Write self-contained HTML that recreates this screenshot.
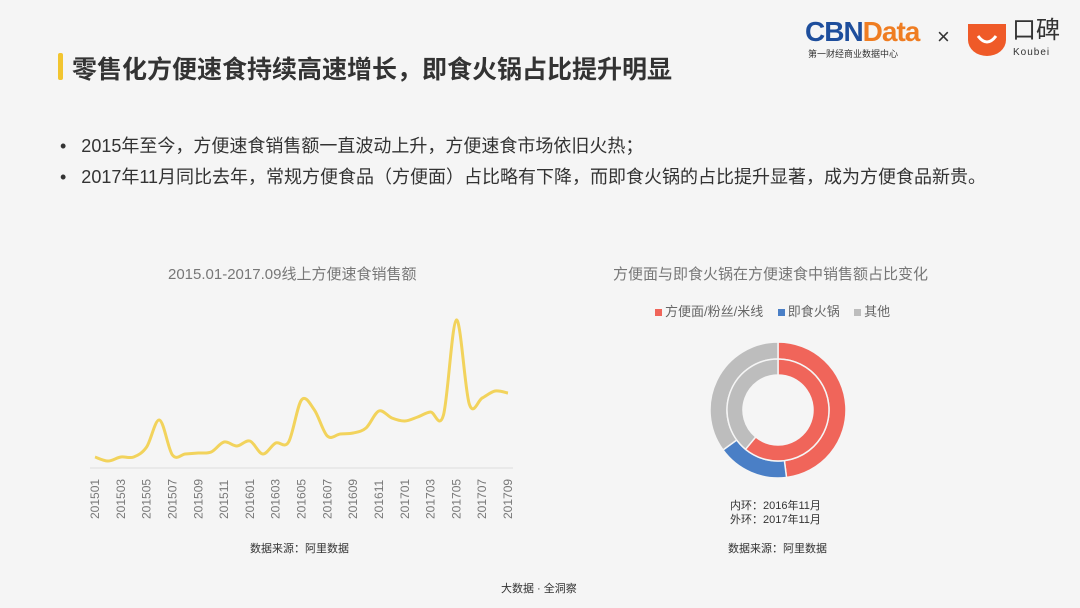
<!DOCTYPE html>
<html><head><meta charset="utf-8">
<style>
body{margin:0;width:1080px;height:608px;background:#f5f5f5;font-family:"Liberation Sans","Noto Sans CJK SC",sans-serif;overflow:hidden;position:relative}
.abs{position:absolute}
</style></head><body>
<div class="abs" style="left:58px;top:53px;width:5px;height:27px;background:#f2c530;border-radius:2px"></div>
<div class="abs" style="left:72px;top:50px;font-size:25px;font-weight:bold;color:#333;letter-spacing:0px">零售化方便速食持续高速增长，即食火锅占比提升明显</div>
<div class="abs" style="left:805px;top:17px;font-size:28px;font-weight:bold;letter-spacing:-1px;line-height:30px"><span style="color:#1e4e9c">CBN</span><span style="color:#ef7d22">Data</span></div>
<div class="abs" style="left:808px;top:47px;font-size:9px;color:#333">第一财经商业数据中心</div>
<div class="abs" style="left:937px;top:24px;font-size:22px;color:#333">×</div>
<svg class="abs" style="left:966px;top:22px" width="42" height="34"><path d="M2 2 H40 V18 A19 16 0 0 1 2 18 Z" fill="#ef5a28"/><path d="M12 14 Q21 26 30 14" stroke="#fff" stroke-width="3" fill="none"/></svg>
<div class="abs" style="left:1012px;top:17px;font-size:24px;line-height:28px;color:#333">口碑</div>
<div class="abs" style="left:1013px;top:47px;font-size:10px;color:#333;letter-spacing:1px">Koubei</div>

<div class="abs" style="left:60px;top:132px;font-size:18px;color:#333">•&nbsp;&nbsp;&nbsp;2015年至今，方便速食销售额一直波动上升，方便速食市场依旧火热；</div>
<div class="abs" style="left:60px;top:163px;font-size:18px;color:#333">•&nbsp;&nbsp;&nbsp;2017年11月同比去年，常规方便食品（方便面）占比略有下降，而即食火锅的占比提升显著，成为方便食品新贵。</div>

<div class="abs" style="left:168px;top:263px;font-size:15px;color:#777">2015.01-2017.09线上方便速食销售额</div>
<svg id="lc" class="abs" style="left:0;top:0" width="540" height="540"></svg>
<div class="abs" style="left:250px;top:540px;font-size:11px;color:#333">数据来源：阿里数据</div>

<div class="abs" style="left:613px;top:263px;font-size:15px;color:#777">方便面与即食火锅在方便速食中销售额占比变化</div>
<div class="abs" style="left:655px;top:301px;font-size:13px;color:#666">
<span><span style="display:inline-block;width:7px;height:7px;background:#f0655a;margin-right:3px"></span>方便面/粉丝/米线</span>&nbsp;&nbsp;&nbsp;
<span><span style="display:inline-block;width:7px;height:7px;background:#4a7fc6;margin-right:3px"></span>即食火锅</span>&nbsp;&nbsp;&nbsp;
<span><span style="display:inline-block;width:7px;height:7px;background:#bdbdbd;margin-right:3px"></span>其他</span></div>
<svg id="dc" class="abs" style="left:700px;top:330px" width="160" height="160"></svg>
<div class="abs" style="left:730px;top:499px;font-size:11px;color:#333;line-height:14px">内环：2016年11月<br>外环：2017年11月</div>
<div class="abs" style="left:728px;top:540px;font-size:11px;color:#333">数据来源：阿里数据</div>
<div class="abs" style="left:501px;top:580px;font-size:11px;color:#333">大数据 · 全洞察</div>

<script>
const months=["201501","201502","201503","201504","201505","201506","201507","201508","201509","201510","201511","201512","201601","201602","201603","201604","201605","201606","201607","201608","201609","201610","201611","201612","201701","201702","201703","201704","201705","201706","201707","201708","201709"];
const sales=[11,7,11,11,21,48,13,14,15,16,26,22,27,14,25,26,68,58,32,34,35,40,57,50,47,51,56,53,148,64,70,77,75];
const innerShare=[61,0,39];
const outerShare=[48,17,35];
const colors=["#f0655a","#4a7fc6","#bdbdbd"];
const NS="http://www.w3.org/2000/svg";
const lc=document.getElementById('lc');
const x0=95,x1=508,y0=468,yMax=160,yPx=160;
const xs=i=>x0+i*(x1-x0)/(months.length-1);
const ys=v=>y0-v/yMax*yPx;
const ax=document.createElementNS(NS,'line');


ax.setAttribute('x1',90);ax.setAttribute('x2',513);ax.setAttribute('y1',y0);ax.setAttribute('y2',y0);ax.setAttribute('stroke','#ddd');
lc.appendChild(ax);
let pts=sales.map((v,i)=>[xs(i),ys(v)]);
let d='M'+pts[0].join(',');
for(let i=0;i<pts.length-1;i++){const p0=pts[i-1]||pts[i],p1=pts[i],p2=pts[i+1],p3=pts[i+2]||p2;
d+=` C${p1[0]+(p2[0]-p0[0])/6},${p1[1]+(p2[1]-p0[1])/6} ${p2[0]-(p3[0]-p1[0])/6},${p2[1]-(p3[1]-p1[1])/6} ${p2[0]},${p2[1]}`;}
const path=document.createElementNS(NS,'path');


path.setAttribute('d',d);path.setAttribute('fill','none');path.setAttribute('stroke','#f2d35c');path.setAttribute('stroke-width','3');
lc.appendChild(path);
months.forEach((m,i)=>{if(i%2)return;const t=document.createElementNS(NS,'text');


const x=xs(i)+4,y=y0+51;t.setAttribute('transform',`translate(${x},${y}) rotate(-90)`);
t.setAttribute('font-size','12');t.setAttribute('fill','#777');t.textContent=m;lc.appendChild(t);});
const dc=document.getElementById('dc');const cx=78,cy=80;
function ring(vals,ro,ri,nm){let a=0;const tot=vals.reduce((s,v)=>s+v,0);
vals.forEach((v,k)=>{if(!v){return;}const a0=a/tot*2*Math.PI,a1=(a+v)/tot*2*Math.PI;a+=v;
const P=(r,t)=>[cx+r*Math.sin(t),cy-r*Math.cos(t)];const lg=(a1-a0)>Math.PI?1:0;
const [ax0,ay0]=P(ro,a0),[ax1,ay1]=P(ro,a1),[bx1,by1]=P(ri,a1),[bx0,by0]=P(ri,a0);
const p=document.createElementNS(NS,'path');


p.setAttribute('d',`M${ax0},${ay0} A${ro},${ro} 0 ${lg} 1 ${ax1},${ay1} L${bx1},${by1} A${ri},${ri} 0 ${lg} 0 ${bx0},${by0} Z`);
p.setAttribute('fill',colors[k]);p.setAttribute('stroke','#f5f5f5');p.setAttribute('stroke-width','1.5');dc.appendChild(p);});}
ring(outerShare,68,51,'outer');ring(innerShare,51,35,'inner');
</script>
</body></html>
